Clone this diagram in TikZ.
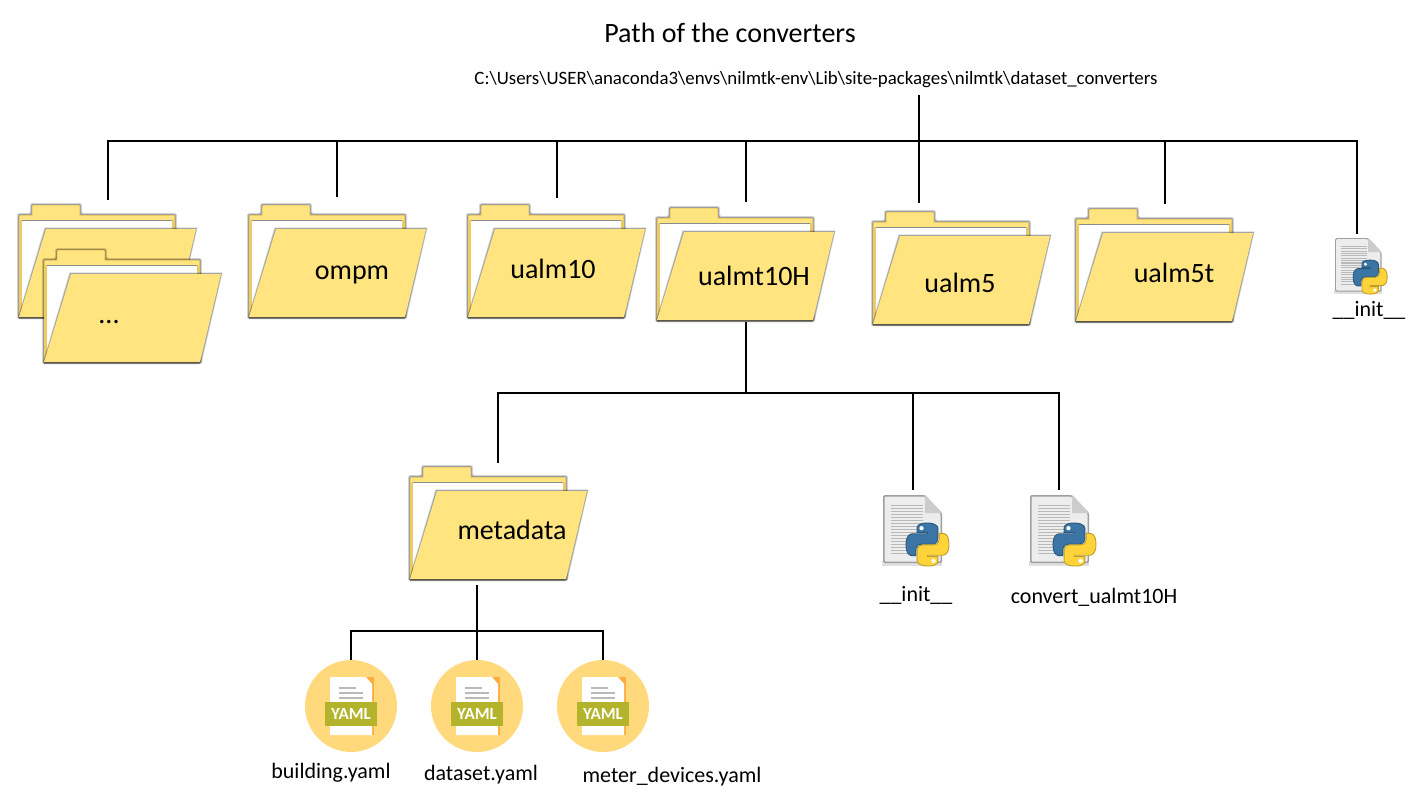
\documentclass[tikz,border=0pt]{standalone}
\usepackage{fontspec}
\setmainfont{Carlito}
\usetikzlibrary{calc}
\definecolor{fold}{HTML}{FFE480}
\definecolor{foldedge}{HTML}{EBCB62}
\definecolor{circ}{HTML}{FFD97C}
\definecolor{yamlg}{HTML}{B4B32C}
\definecolor{pyb}{HTML}{3B75A6}
\definecolor{pyy}{HTML}{FFD43B}
\tikzset{
 conn/.style={line width=2pt,black},
 lab/.style={inner sep=0pt,font=\fontsize{28}{32}\selectfont},
 small/.style={inner sep=0pt,font=\fontsize{22}{26}\selectfont},
 ghost/.style={inner sep=0pt,outer sep=0pt,minimum width=176pt,anchor=north},
 iconbox/.style={inner sep=0pt,outer sep=0pt,anchor=north},
 yamltext/.style={inner sep=0pt,text=white,font=\fontsize{17}{20}\bfseries\selectfont},
}
\newcommand{\backshape}[1]{(-#1,112+#1) -- (-#1,10-#1) -- (13-#1,10-#1) -- (13-#1,-#1) -- (61+#1,-#1) -- (61+#1,10-#1) -- (156+#1,10-#1) -- (156+#1,112+#1) -- cycle}
\newcommand{\frontshape}[1]{(27-#1,24-#1) -- (177+#1,24-#1) -- (156+#1,112+#1) -- (-#1,112+#1) -- cycle}
\newcommand{\folderart}[2]{%
 \begin{scope}[shift={(#1,#2)}]
  \foreach \s in {0.4,0.8,1.2,1.6,2}{\fill[black,opacity=.1,rounded corners=1.5pt] \backshape{\s};}
  \fill[foldedge,rounded corners=1pt] \backshape{0};
  \fill[fold,rounded corners=1pt] (13.7,12) -- (13.7,.7) -- (60.3,.7) -- (60.3,12) -- cycle;
  \fill[fold] (1,11) rectangle (155,15);
  \fill[black!45] (3,14.5) rectangle (153,16);
  \fill[white] (3,16) rectangle (153,108);
  \foreach \s in {0.4,0.8,1.2,1.6}{\fill[black,opacity=.12] \frontshape{\s};}
  \fill[black,opacity=.35] (0,112) -- (156,112) -- (155.5,114) -- (0,114) -- cycle;
  \fill[fold] \frontshape{0};
 \end{scope}}
\newcommand{\pysnake}[2]{%
 \fill[#1,draw=#2,line width=.9pt] (49,0) .. controls (24,0) and (26,11) .. (26,11) -- (26,22) -- (50,22) -- (50,25) -- (16,25) .. controls (16,25) and (0,23) .. (0,50) .. controls (0,77) and (14,76) .. (14,76) -- (23,76) -- (23,63) .. controls (23,63) and (22,49) .. (37,49) -- (61,49) .. controls (61,49) and (74,49) .. (74,36) -- (74,13) .. controls (74,13) and (76,0) .. (49,0) -- cycle;
 \fill[white] (36,12) circle [radius=5];}
\newcommand{\pyicon}[3]{%
 \begin{scope}[shift={(#1,#2)},x=#3pt,y=-#3pt]
  \fill[black,opacity=.12] (-1,66) rectangle (59,71);
  \fill[gray!75,rounded corners=1.5pt] (0,0) -- (42,0) -- (59,18) -- (59,68) -- (0,68) -- cycle;
  \fill[gray!14,rounded corners=1pt] (1.5,1.5) -- (41,1.5) -- (57.5,19) -- (57.5,66.5) -- (1.5,66.5) -- cycle;
  \foreach \yy in {10,13,...,58}{\fill[gray!55] (8,\yy) rectangle (40,\yy+1.3);}
  \fill[gray!40] (42,0) -- (42,18) -- (59,18) -- cycle;
  \begin{scope}[shift={(23,28)},x=.43*#3pt,y=-.43*#3pt]
   \pysnake{pyb}{pyb!75!black}
   \begin{scope}[shift={(100,100)},x=-.43*#3pt,y=.43*#3pt]
    \pysnake{pyy}{pyy!75!black}
   \end{scope}
  \end{scope}
 \end{scope}}
\newcommand{\yamlicon}[2]{%
 \fill[circ] (#1,#2) circle (46pt);
 \fill[orange!50!circ] (#1-21,#2-29) rectangle (#1+23,#2+29);
 \fill[white] (#1-21,#2-29) -- (#1+15,#2-29) -- (#1+21,#2-22) -- (#1+21,#2+29) -- (#1-21,#2+29) -- cycle;
 \fill[gray!55] (#1-12,#2-19) rectangle (#1+5,#2-17);
 \fill[gray!55] (#1-12,#2-14) rectangle (#1+12,#2-12);
 \fill[gray!55] (#1-12,#2-9) rectangle (#1+12,#2-7);
 \fill[yamlg] (#1-26,#2-4) rectangle (#1+26,#2+20);
 \node[yamltext] at (#1,#2+8) {YAML};}
\begin{document}
\begin{tikzpicture}[x=1pt,y=-1pt]
\useasboundingbox (0,0) rectangle (1415,803);
\fill[white] (0,0) rectangle (1415,803);
% artwork
\folderart{19}{205}\folderart{44}{250}
\folderart{249}{205}\folderart{468}{205}\folderart{657}{208}
\folderart{873}{212}\folderart{1076}{209}\folderart{410}{467}
\pyicon{1335}{238}{0.79}
\pyicon{883}{495}{1}\pyicon{1030}{495}{1}
\yamlicon{351}{706}\yamlicon{477}{706}\yamlicon{603}{706}
% texts
\node[inner sep=0pt,font=\fontsize{28}{32}\selectfont] (title) at (730,32.5) {Path of the converters};
\node[inner sep=0pt,font=\fontsize{18.85}{22}\selectfont] (root) at (816,80) {C:\textbackslash Users\textbackslash USER\textbackslash anaconda3\textbackslash envs\textbackslash nilmtk-env\textbackslash Lib\textbackslash site-packages\textbackslash nilmtk\textbackslash dataset\_converters};
\node[lab] at (109,322.5) {...};
\node[lab] at (352,275) {ompm};
\node[lab] at (553,269) {ualm10};
\node[lab] at (754,276) {ualmt10H};
\node[lab] at (960,283) {ualm5};
\node[lab] at (1174,273) {ualm5t};
\node[lab] at (512,529.5) {metadata};
\node[small] at (1369,310) {\_\_init\_\_};
\node[small] at (916,595) {\_\_init\_\_};
\node[small] at (1094,597) {convert\_ualmt10H};
\node[small] at (331,773) {building.yaml};
\node[small] at (481,775) {dataset.yaml};
\node[small] at (672,777) {meter\_devices.yaml};
% invisible boxes for connectors
\node[ghost,minimum height=162pt] (dots) at (108,200) {};
\node[ghost,minimum height=120pt] (ompm) at (337,197) {};
\node[ghost,minimum height=119pt] (ualm10) at (557,198) {};
\node[ghost,minimum height=120pt] (ualmt) at (746,202) {};
\coordinate (ualm5) at (919,203);
\node[ghost,minimum height=117pt] (ualm5t) at (1165,204) {};
\node[iconbox,minimum width=50pt,minimum height=58pt] (pytop) at (1357,234) {};
\node[ghost,minimum height=116pt] (meta) at (498,463) {};
\node[iconbox,minimum width=59pt,minimum height=76pt] (pyinit) at (913,490) {};
\node[iconbox,minimum width=59pt,minimum height=76pt] (pyconv) at (1059,490) {};
\node[iconbox,minimum size=92pt] (yb) at (351,660) {};
\node[iconbox,minimum size=92pt] (yd) at (477,660) {};
\node[iconbox,minimum size=92pt] (ym) at (603,660) {};
\coordinate (bus) at (919,141);
\coordinate (rootend) at (919,95);
\coordinate (busb) at (746,393);
\coordinate (ualmtend) at (746,322);
\coordinate (busc) at (477,631);
\coordinate (metaend) at (477,585);
% connectors
\draw[conn] (rootend) -- (ualm5);
\foreach \n in {dots,ompm,ualm10,ualmt,ualm5t,pytop}{\draw[conn] (bus) -| (\n.north);}
\draw[conn] (ualmtend) -- (busb);
\foreach \n in {meta,pyinit,pyconv}{\draw[conn] (busb) -| (\n.north);}
\draw[conn] (metaend) -- (yd.north);
\foreach \n in {yb,ym}{\draw[conn] (busc) -| (\n.north);}
\end{tikzpicture}
\end{document}
